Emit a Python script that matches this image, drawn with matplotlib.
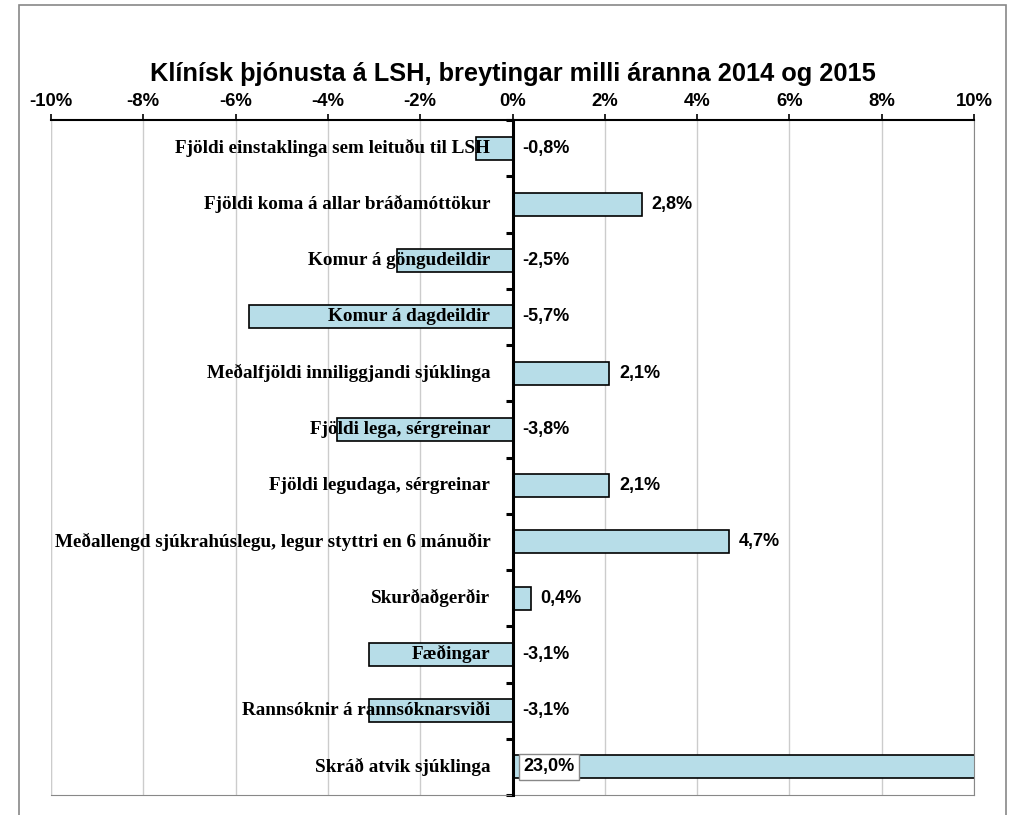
import numpy as np
import matplotlib
matplotlib.use("Agg")
from matplotlib import pyplot as plt
from matplotlib.patches import Rectangle

# gögn
flokkar = [
    "Fjöldi einstaklinga sem leituðu til LSH",
    "Fjöldi koma á allar bráðamóttökur",
    "Komur á göngudeildir",
    "Komur á dagdeildir",
    "Meðalfjöldi inniliggjandi sjúklinga",
    "Fjöldi lega, sérgreinar",
    "Fjöldi legudaga, sérgreinar",
    "Meðallengd sjúkrahúslegu, legur styttri en 6 mánuðir",
    "Skurðaðgerðir",
    "Fæðingar",
    "Rannsóknir á rannsóknarsviði",
    "Skráð atvik sjúklinga",
]
breyting = [-0.8, 2.8, -2.5, -5.7, 2.1, -3.8, 2.1, 4.7, 0.4, -3.1, -3.1, 23.0]
xticks = [-10, -8, -6, -4, -2, 0, 2, 4, 6, 8, 10]

serif = "Liberation Serif"
sans = "Liberation Sans"

fig = plt.figure(figsize=(10.11, 8.15), dpi=100)
fig.patches.append(Rectangle((19 / 1011, -0.05), (1006 - 19) / 1011, 1.05 - 5 / 815,
                             transform=fig.transFigure, fill=False,
                             edgecolor="#888888", lw=1.2))
ax = fig.add_axes([51 / 1011, 1 - 795 / 815, (974 - 51) / 1011, (795 - 120) / 815])

y = np.arange(len(flokkar))
ax.barh(y, breyting, height=0.41, color="#B7DDE8", edgecolor="black", lw=1.2, zorder=2)

ax.set_xlim(-10, 10)
ax.set_ylim(len(flokkar) - 0.5, -0.5)

# x-ás efst
ax.xaxis.tick_top()
ax.set_xticks(xticks)
ax.set_xticklabels([f"{t}%" for t in xticks], fontfamily=sans, fontweight="bold", fontsize=13.3)
ax.tick_params(axis="x", direction="out", length=4, width=1.2, pad=3)
ax.grid(axis="x", color="#CCCCCC", lw=1, zorder=0)

# y-ás í núlli
ax.spines["left"].set_position(("data", 0))
ax.spines["left"].set_linewidth(2.2)
ax.spines["left"].set_zorder(4)
ax.set_yticks(np.arange(-0.5, len(flokkar), 1.0))
ax.set_yticklabels([])
ax.tick_params(axis="y", direction="out", length=5, width=2.2)
ax.spines["top"].set_linewidth(1.5)
for s in ["right", "bottom"]:
    ax.spines[s].set_color("#888888")
ax.axvline(-10, color="#888888", lw=1.5, zorder=0)

for i, (nafn, v) in enumerate(zip(flokkar, breyting)):
    ax.annotate(nafn, (0, i), xytext=(-16, 0), textcoords="offset points",
                ha="right", va="center", fontfamily=serif, fontweight="bold",
                fontsize=13.8, zorder=5)
    merki = f"{v:.1f}%".replace(".", ",")
    if v > 10:
        ax.annotate(merki, (0, i), xytext=(8, 0), textcoords="offset points",
                    ha="left", va="center", fontfamily=sans, fontweight="bold",
                    fontsize=13, zorder=5,
                    bbox=dict(boxstyle="square,pad=0.25", fc="white", ec="#888888"))
    else:
        x0 = max(v, 0)
        ax.annotate(merki, (x0, i), xytext=(7, 0), textcoords="offset points",
                    ha="left", va="center", fontfamily=sans, fontweight="bold",
                    fontsize=13, zorder=5)

fig.text(0.507, 1 - 74 / 815, "Klínísk þjónusta á LSH, breytingar milli áranna 2014 og 2015",
         ha="center", va="center", fontfamily=sans, fontweight="bold", fontsize=18.3)

fig.savefig("out.png", dpi=100)
